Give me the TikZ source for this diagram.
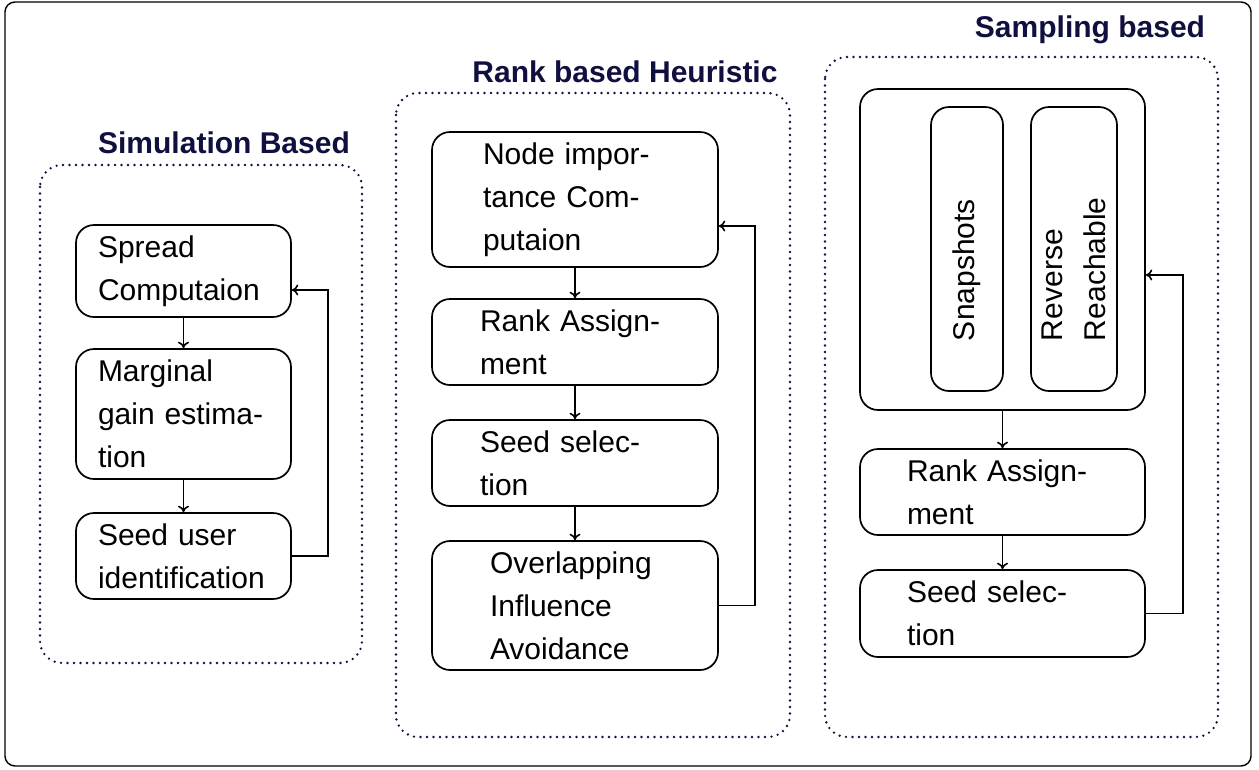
\documentclass[tikz,border=0pt]{standalone}
\usepackage{fontspec}
\setmainfont{Liberation Sans}
\usetikzlibrary{arrows.meta}
\definecolor{navy}{RGB}{16,16,64}
\begin{document}
\begin{tikzpicture}[x=1pt,y=-1pt,
  box/.style={draw, line width=1.7pt, rounded corners=18pt, align=left,
    inner ysep=0pt, font=\fontsize{30}{43}\selectfont},
  arr/.style={-{To[length=6.5pt,width=11pt]}, line width=1.6pt},
  grp/.style={draw=navy, line width=2.6pt, dash pattern=on 0pt off 6.5pt,
    line cap=round, rounded corners=22pt},
  ttl/.style={font=\fontsize{30}{34}\selectfont\bfseries, text=navy}]

\useasboundingbox (0,0) rectangle (1259,769);
\draw[line width=1.4pt, rounded corners=10pt] (5,2) rectangle (1251,766);

% ---- Simulation based ----
\draw[grp] (40,165) rectangle (362,663);
\node[ttl] (t1) at (224,143) {Simulation Based};
\node[box, minimum width=215pt, text width=171pt, inner xsep=22pt, minimum height=92pt]
  (s1) at (183.5,271) {Spread\\Computaion};
\node[box, minimum width=215pt, text width=171pt, inner xsep=22pt, minimum height=130pt]
  (s2) at (183.5,414) {Marginal\\gain estima-\\tion};
\node[box, minimum width=215pt, text width=171pt, inner xsep=22pt, minimum height=86pt]
  (s3) at (183.5,556) {Seed user\\identification};
\draw[arr] (s1) -- (s2);
\draw[arr] (s2) -- (s3);
\draw[arr] (s3.east) -- ++(36,0) |- ([yshift=-19pt]s1.east);

% ---- Rank based heuristic ----
\draw[grp] (396,93) rectangle (790,737);
\node[ttl] (t2) at (625,72) {Rank based Heuristic};
\node[box, minimum width=286pt, text width=184pt, inner xsep=51pt, minimum height=135pt]
  (r1) at (575,199.5) {Node impor-\\tance Com-\\putaion};
\node[box, minimum width=286pt, text width=190pt, inner xsep=48pt, minimum height=86pt]
  (r2) at (575,342) {Rank Assign-\\ment};
\node[box, minimum width=286pt, text width=190pt, inner xsep=48pt, minimum height=86pt]
  (r3) at (575,463) {Seed selec-\\tion};
\node[box, minimum width=286pt, text width=170pt, inner xsep=58pt, minimum height=129pt]
  (r4) at (575,605.5) {Overlapping\\Influence\\Avoidance};
\draw[arr] (r1) -- (r2);
\draw[arr] (r2) -- (r3);
\draw[arr] (r3) -- (r4);
\draw[arr] (r4.east) -- ++(36,0) |- ([yshift=-26.5pt]r1.east);

% ---- Sampling based ----
\draw[grp] (825,57) rectangle (1218,737);
\node[ttl] (t3) at (1090,30) {Sampling based};
\node[draw, line width=1.7pt, rounded corners=18pt, minimum width=285pt, minimum height=321pt]
  (big) at (1002.5,249.5) {};
\node[box, rotate=90, minimum width=284pt, text width=184pt, inner xsep=50pt, minimum height=72pt]
  (snap) at (967,249) {Snapshots};
\node[box, rotate=90, minimum width=284pt, text width=184pt, inner xsep=50pt, minimum height=86pt]
  (rev) at (1074,249) {Reverse\\Reachable};
\node[box, minimum width=285pt, text width=191pt, inner xsep=47pt, minimum height=86pt]
  (sa1) at (1002.5,492) {Rank Assign-\\ment};
\node[box, minimum width=285pt, text width=191pt, inner xsep=47pt, minimum height=87pt]
  (sa2) at (1002.5,613.5) {Seed selec-\\tion};
\draw[arr] (big) -- (sa1);
\draw[arr] (sa1) -- (sa2);
\draw[arr] (sa2.east) -- ++(37,0) |- ([yshift=-25.5pt]big.east);
\end{tikzpicture}
\end{document}
